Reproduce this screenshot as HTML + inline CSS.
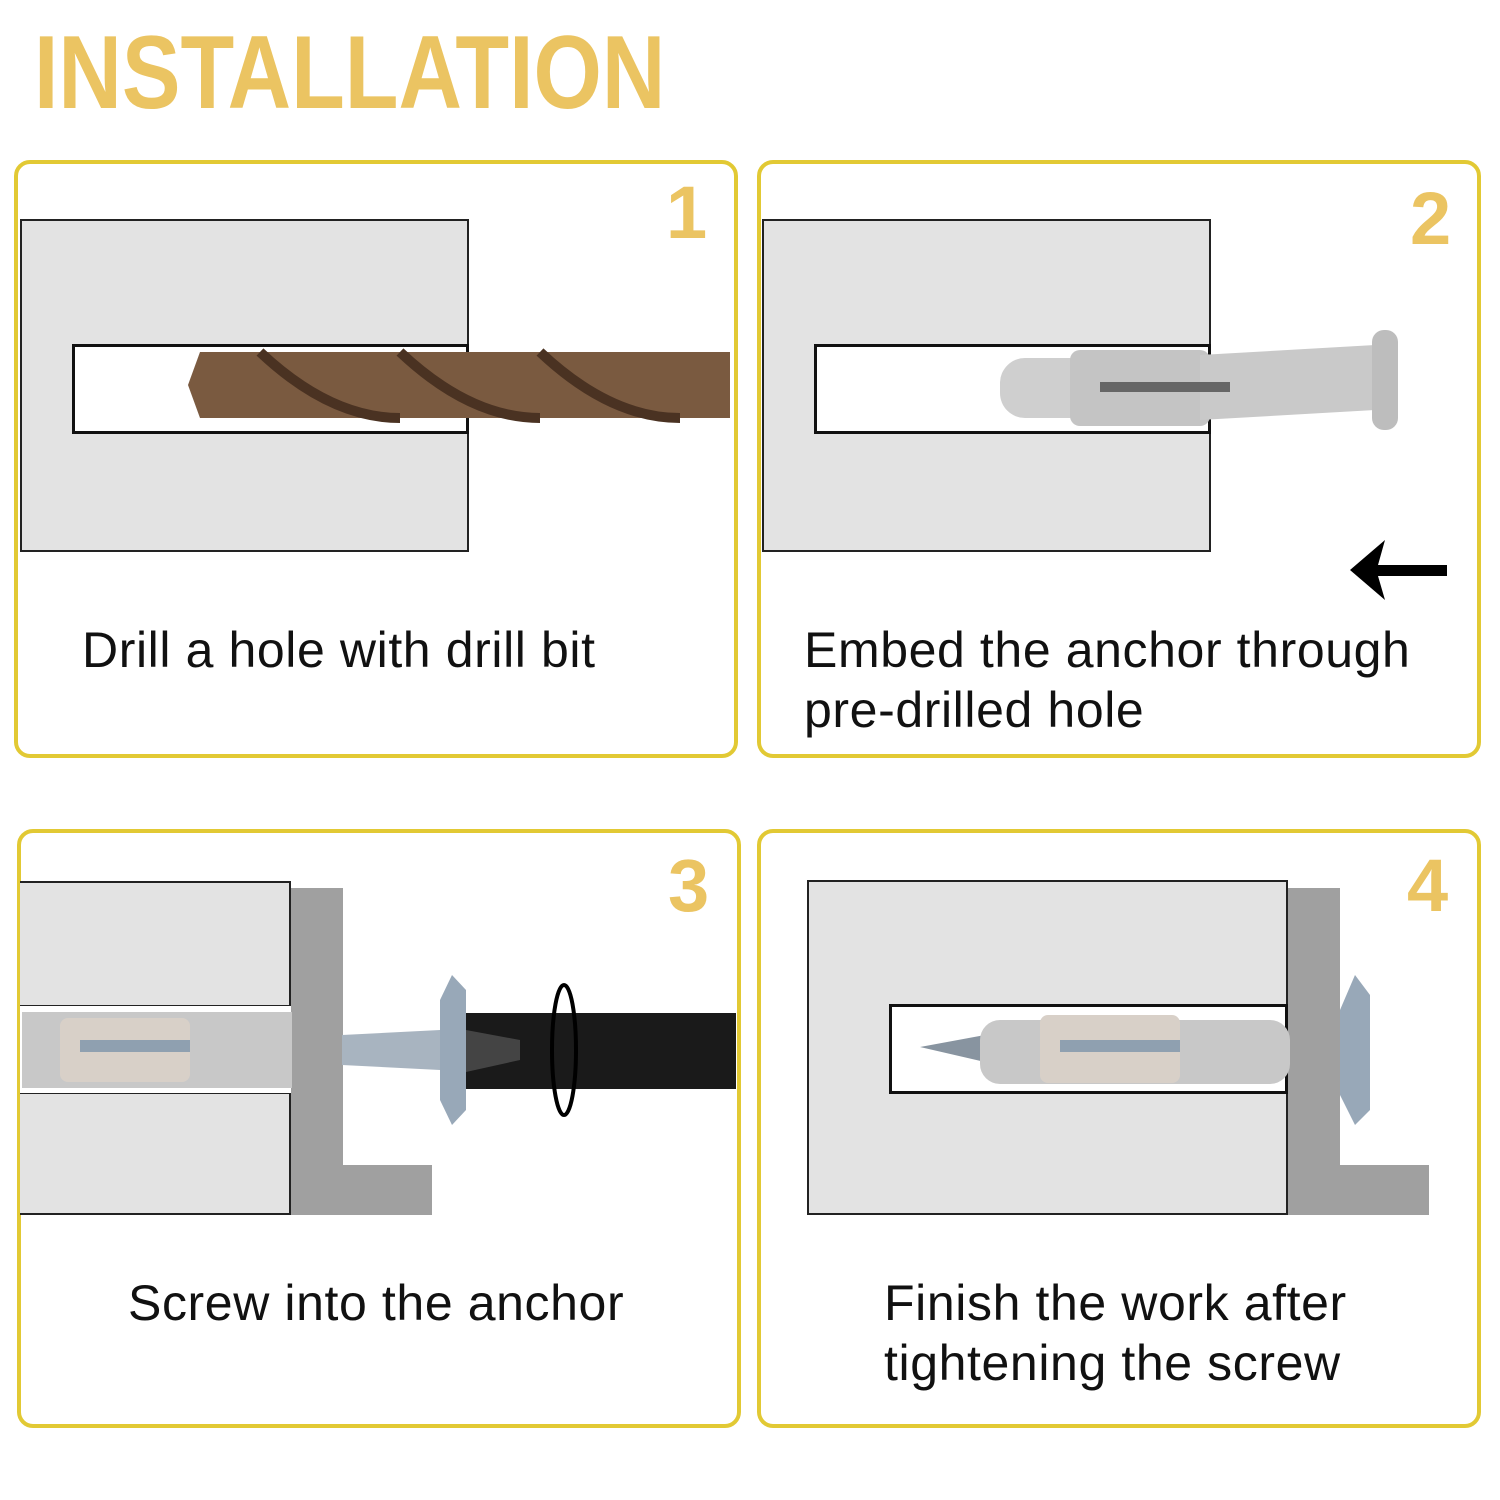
<!DOCTYPE html>
<html><head><meta charset="utf-8"><style>
body{margin:0;width:1500px;height:1500px;background:#fff;position:relative;overflow:hidden;font-family:"Liberation Sans",sans-serif}
.t{position:absolute;left:34px;top:14px;font-size:104px;font-weight:bold;color:#ebc462;transform:scaleX(0.845);transform-origin:0 0;white-space:nowrap}
.p{position:absolute;border:4px solid #e2c934;border-radius:16px;box-sizing:border-box}
.w{position:absolute;background:#e3e3e3;border:2px solid #222;box-sizing:border-box}
.h{position:absolute;background:#fff;border:3px solid #111;box-sizing:border-box}
.g{position:absolute;background:#a0a0a0}
.n{position:absolute;font-size:74px;color:#ebc462;font-weight:bold}
.x{position:absolute;font-size:50px;color:#111;line-height:60px;letter-spacing:0.6px;white-space:nowrap}
svg{position:absolute;left:0;top:0}
</style></head><body>
<div class="t">INSTALLATION</div>
<div class="p" style="left:14px;top:160px;width:724px;height:598px"></div>
<div class="p" style="left:757px;top:160px;width:724px;height:598px"></div>
<div class="p" style="left:17px;top:829px;width:724px;height:599px"></div>
<div class="p" style="left:757px;top:829px;width:724px;height:599px"></div>

<div class="w" style="left:20px;top:219px;width:449px;height:333px"></div>
<div class="h" style="left:72px;top:344px;width:397px;height:90px"></div>
<div class="w" style="left:762px;top:219px;width:449px;height:333px"></div>
<div class="h" style="left:814px;top:344px;width:397px;height:90px"></div>

<div class="w" style="left:20px;top:881px;width:271px;height:126px;border-left:none"></div>
<div class="w" style="left:20px;top:1092px;width:271px;height:123px;border-left:none"></div>
<div style="position:absolute;left:20px;top:1006px;width:272px;height:87px;background:#fff"></div>
<div class="g" style="left:291px;top:888px;width:52px;height:327px"></div>
<div class="g" style="left:291px;top:1165px;width:141px;height:50px"></div>

<div class="w" style="left:807px;top:880px;width:481px;height:335px"></div>
<div class="h" style="left:889px;top:1004px;width:399px;height:90px"></div>
<div class="g" style="left:1288px;top:888px;width:52px;height:327px"></div>
<div class="g" style="left:1288px;top:1165px;width:141px;height:50px"></div>

<svg width="1500" height="1500">
<path d="M200 352 L730 352 L730 418 L200 418 L188 385 Z" fill="#7a5a40"/>
<path d="M260 352 Q330 418 400 418 M400 352 Q470 418 540 418 M540 352 Q610 418 680 418" stroke="#4a3222" stroke-width="10" fill="none"/>
<rect x="1000" y="358" width="200" height="60" rx="25" fill="#cfcfcf"/>
<rect x="1070" y="350" width="140" height="76" rx="10" fill="#c4c4c4"/>
<path d="M1200 355 L1375 345 L1375 410 L1200 420 Z" fill="#c9c9c9"/>
<rect x="1372" y="330" width="26" height="100" rx="12" fill="#bdbdbd"/>
<rect x="1100" y="382" width="130" height="10" fill="#666"/>
<path d="M1350 570 L1385 540 L1378 565 L1447 565 L1447 576 L1378 576 L1385 600 Z" fill="#000"/>
<rect x="22" y="1012" width="270" height="76" fill="#c8c8c8"/>
<rect x="60" y="1018" width="130" height="64" rx="8" fill="#d8d0c8"/>
<rect x="80" y="1040" width="110" height="12" fill="#8fa0b0"/>
<path d="M342 1035 L440 1030 L450 1050 L440 1070 L342 1065 Z" fill="#a8b4c0"/>
<path d="M440 1000 L452 975 L466 990 L466 1110 L452 1125 L440 1100 Z" fill="#98a8b8"/>
<rect x="466" y="1013" width="270" height="76" fill="#1a1a1a"/>
<path d="M466 1030 L520 1040 L520 1060 L466 1072 Z" fill="#444"/>
<ellipse cx="564" cy="1050" rx="12" ry="65" fill="none" stroke="#000" stroke-width="4"/>
<path d="M920 1047 L985 1035 L985 1062 Z" fill="#8894a0"/>
<rect x="980" y="1020" width="310" height="64" rx="20" fill="#c8c8c8"/>
<rect x="1040" y="1015" width="140" height="68" rx="8" fill="#d8d0c8"/>
<rect x="1060" y="1040" width="120" height="12" fill="#8fa0b0"/>
<path d="M1340 1010 L1355 975 L1370 995 L1370 1110 L1355 1125 L1340 1095 Z" fill="#98a8b8"/>
</svg>

<div class="n" style="left:666px;top:170px">1</div>
<div class="n" style="left:1410px;top:176px">2</div>
<div class="n" style="left:668px;top:843px">3</div>
<div class="n" style="left:1407px;top:843px">4</div>

<div class="x" style="left:82px;top:620px">Drill a hole with drill bit</div>
<div class="x" style="left:804px;top:620px">Embed the anchor through<br>pre-drilled hole</div>
<div class="x" style="left:128px;top:1273px">Screw into the anchor</div>
<div class="x" style="left:884px;top:1273px">Finish the work after<br>tightening the screw</div>
</body></html>
